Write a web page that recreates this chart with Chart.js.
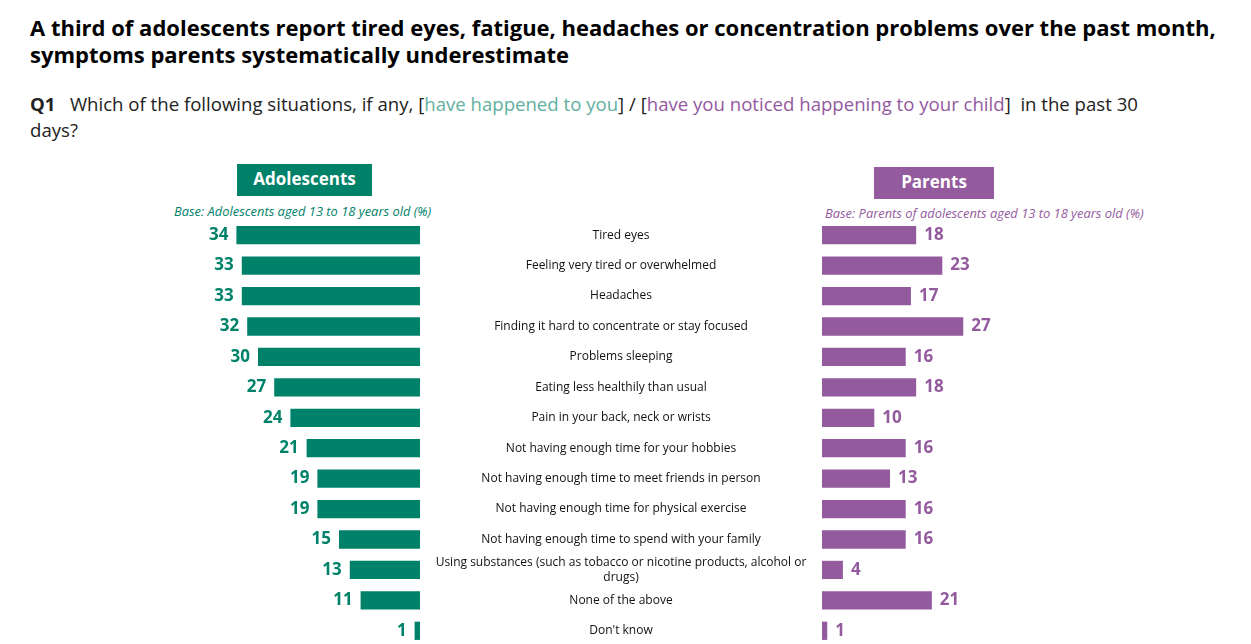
<!DOCTYPE html>
<html><head><meta charset="utf-8">
<script src="https://cdn.jsdelivr.net/npm/chart.js@4"></script>
<style>
body{margin:0;width:1251px;height:644px;overflow:hidden;background:#fff;font-family:"Open Sans",sans-serif;position:relative}
.t{position:absolute;left:30px;top:14px;font-size:22px;font-weight:700;line-height:27px;color:#000;width:1215px}
.q{position:absolute;left:30px;top:91px;font-size:18.6px;line-height:26px;color:#222;width:1140px}
.box{position:absolute;color:#fff;font-weight:700;font-size:17px;text-align:center}
.base{position:absolute;font-size:12.9px;font-style:italic}
canvas{position:absolute}
</style></head><body>
<div class="t">A third of adolescents report tired eyes, fatigue, headaches or concentration problems over the past month, symptoms parents systematically underestimate</div>
<div class="q"><b>Q1</b>&nbsp;&nbsp; Which of the following situations, if any, [<span style="color:#5fb0a0">have happened to you</span>] / [<span style="color:#93599f">have you noticed happening to your child</span>]&nbsp; in the past 30 days?</div>
<div class="box" style="left:237px;top:164px;width:135px;height:32px;line-height:30px;background:#00826a">Adolescents</div>
<div class="box" style="left:874px;top:167px;width:120px;height:32px;line-height:30px;background:#935b9e">Parents</div>
<div class="base" style="left:174px;top:202px;color:#00826a">Base: Adolescents aged 13 to 18 years old (%)</div>
<div class="base" style="left:825px;top:204px;color:#935b9e">Base: Parents of adolescents aged 13 to 18 years old (%)</div>
<canvas id="left" style="left:150px;top:220px;width:270px;height:426px"></canvas>
<canvas id="right" style="left:420px;top:220px;width:831px;height:426px"></canvas>
<script>
const categories = [
  ['Tired eyes'], ['Feeling very tired or overwhelmed'], ['Headaches'],
  ['Finding it hard to concentrate or stay focused'], ['Problems sleeping'],
  ['Eating less healthily than usual'], ['Pain in your back, neck or wrists'],
  ['Not having enough time for your hobbies'], ['Not having enough time to meet friends in person'],
  ['Not having enough time for physical exercise'], ['Not having enough time to spend with your family'],
  ['Using substances (such as tobacco or nicotine products, alcohol or', 'drugs)'],
  ['None of the above'], ["Don't know"]
];
const adolescents = [34, 33, 33, 32, 30, 27, 24, 21, 19, 19, 15, 13, 11, 1];
const parents = [18, 23, 17, 27, 16, 18, 10, 16, 13, 16, 16, 4, 21, 1];
const GREEN = '#00826a', PURPLE = '#935b9e';

function valueLabels(color, side) {
  return {
    id: 'vl',
    afterDatasetsDraw(chart) {
      const ctx = chart.ctx;
      ctx.save();
      ctx.font = 'bold 17px "Open Sans"';
      ctx.fillStyle = color;
      ctx.textBaseline = 'middle';
      ctx.textAlign = side === 'left' ? 'right' : 'left';
      chart.getDatasetMeta(0).data.forEach((b, i) => {
        const v = chart.data.datasets[0].data[i];
        ctx.fillText(v, side === 'left' ? b.x - 8 : b.x + 8, b.y);
      });
      ctx.restore();
    }
  };
}

const catLabels = {
  id: 'cats',
  afterDatasetsDraw(chart) {
    const ctx = chart.ctx, ys = chart.scales.y;
    ctx.save();
    ctx.font = '12px "Open Sans"';
    ctx.fillStyle = '#111';
    ctx.textAlign = 'center';
    ctx.textBaseline = 'middle';
    categories.forEach((lines, i) => {
      const y = ys.getPixelForValue(i) - (lines.length - 1) * 7;
      lines.forEach((l, k) => ctx.fillText(l, 201, y + k * 15));
    });
    ctx.restore();
  }
};

function opts(reverse, max, padLeft) {
  return {
    indexAxis: 'y', responsive: false, animation: false,
    layout: { padding: { left: padLeft, right: 0, top: 0, bottom: 0 } },
    plugins: { legend: { display: false }, tooltip: { enabled: false } },
    scales: {
      x: { display: false, min: 0, max: max, reverse: reverse },
      y: { display: false }
    }
  };
}
const labels = categories.map(c => c.join(' '));
new Chart(document.getElementById('left'), {
  type: 'bar',
  data: { labels, datasets: [{ data: adolescents, backgroundColor: GREEN, barPercentage: 0.6, categoryPercentage: 1 }] },
  options: opts(true, 50, 0),
  plugins: [valueLabels(GREEN, 'left')]
});
new Chart(document.getElementById('right'), {
  type: 'bar',
  data: { labels, datasets: [{ data: parents, backgroundColor: PURPLE, barPercentage: 0.6, categoryPercentage: 1 }] },
  options: opts(false, 82, 402),
  plugins: [valueLabels(PURPLE, 'right'), catLabels]
});
</script>
</body></html>
